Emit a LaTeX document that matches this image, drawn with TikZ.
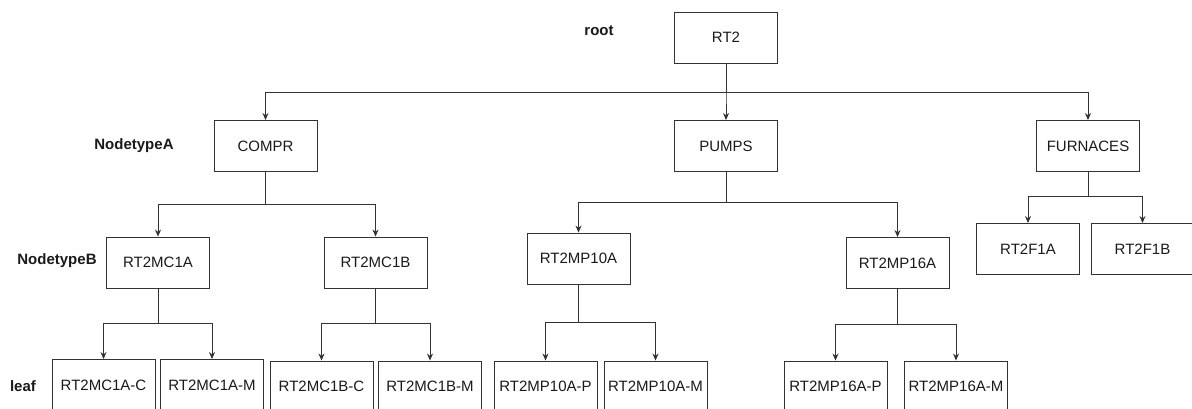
\documentclass[tikz,border=0pt]{standalone}
\usepackage{fontspec}
\setmainfont{Liberation Sans}
\usepackage{xcolor}
\usepackage{tikz}
\usetikzlibrary{positioning, arrows.meta}
\definecolor{tInk}{HTML}{1A1A1A}
\definecolor{tLine}{HTML}{333333}

\begin{document}
\begin{tikzpicture}[x=1pt, y=-1pt, >={Stealth[length=7pt, width=6pt]},
          box/.style={draw=tLine, line width=0.9pt, fill=white, text=tInk,
            font=\fontsize{15}{18}\selectfont, minimum width=103pt, minimum height=51pt, inner sep=0pt},
          lvl/.style={font=\fontsize{15}{18}\selectfont\bfseries, text=tInk},
          conn/.style={->, draw=tLine, line width=0.9pt}]
        \clip (0,0) rectangle (1192,408);
        \fill[white] (0,0) rectangle (1192,408);
        % level labels
        \node[lvl] (lroot) at (599,31) {root};
        \node[lvl] (lA) at (134,146) {NodetypeA};
        \node[lvl] (lB) at (57,261) {NodetypeB};
        \node[lvl] (lleaf) at (23,386) {leaf};
        % root and type A
        \node[box] (rt2) at (726,37.5) {RT2};
        \node[box] (compr) at (265.5,146) {COMPR};
        \node[box] (pumps) at (726,146) {PUMPS};
        \node[box] (furn) at (1088,146) {FURNACES};
        % type B
        \node[box] (mc1a) at (158,262.5) {RT2MC1A};
        \node[box] (mc1b) at (375.5,262.5) {RT2MC1B};
        \node[box] (mp10a) at (578.5,258.5) {RT2MP10A};
        \node[box] (mp16a) at (897.5,263) {RT2MP16A};
        \node[box] (f1a) at (1028,249) {RT2F1A};
        \node[box] (f1b) at (1142.5,249) {RT2F1B};
        % leaves (bottom edge runs past the page)
        \node[box] (mc1ac) at (103.5,385) {RT2MC1A-C};
        \node[box] (mc1am) at (212,385) {RT2MC1A-M};
        \node[box] (mc1bc) at (321.5,386.5) {RT2MC1B-C};
        \node[box] (mc1bm) at (430,386.5) {RT2MC1B-M};
        \node[box] (mp10ap) at (545.5,386.5) {RT2MP10A-P};
        \node[box] (mp10am) at (655.5,386.5) {RT2MP10A-M};
        \node[box] (mp16ap) at (835.5,386.5) {RT2MP16A-P};
        \node[box] (mp16am) at (956,386.5) {RT2MP16A-M};
        % connectors
        \foreach \p/\c/\y in {rt2/compr/92, rt2/pumps/92, rt2/furn/92,
            compr/mc1a/204, compr/mc1b/204, pumps/mp10a/202, pumps/mp16a/202,
            furn/f1a/196, furn/f1b/196,
            mc1a/mc1ac/323, mc1a/mc1am/323, mc1b/mc1bc/323, mc1b/mc1bm/323,
            mp10a/mp10ap/322, mp10a/mp10am/322, mp16a/mp16ap/324, mp16a/mp16am/324}
          \draw[conn] (\p.south) -- (\p.south |- 0,\y) -| (\c.north);
      \end{tikzpicture}
\end{document}
